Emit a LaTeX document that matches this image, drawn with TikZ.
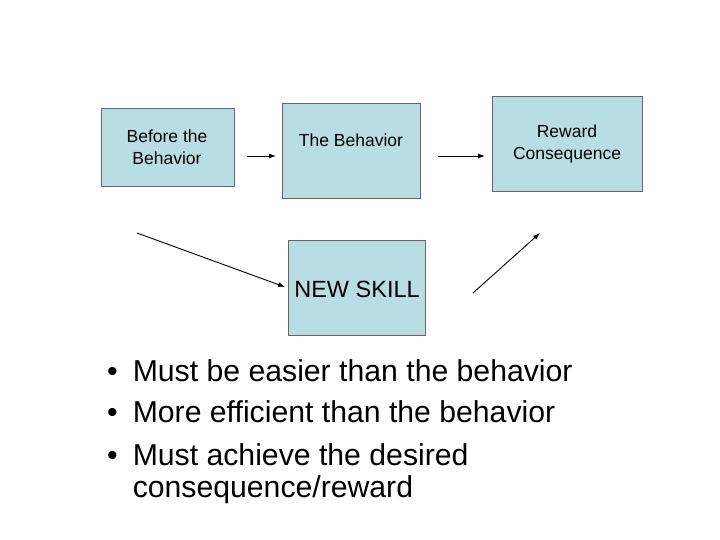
\documentclass[tikz,border=0pt]{standalone}
\usepackage{fontspec}
\setmainfont{Liberation Sans}
\usetikzlibrary{arrows.meta}
\begin{document}
\begin{tikzpicture}[x=1pt,y=-1pt,
  box/.style={draw=gray!80!black,fill=boxblue,line width=0.6pt},
  lbl/.style={align=center,font=\fontsize{17.5}{22}\selectfont},
  arr/.style={-{Latex[length=7pt,width=5pt]},line width=0.9pt},
  bul/.style={anchor=west,font=\fontsize{30.2}{34}\selectfont,inner sep=0pt}]
\definecolor{boxblue}{HTML}{B8DEE3}
\useasboundingbox (0,0) rectangle (720,540);
\fill[white] (0,0) rectangle (720,540);
\draw[box] (101,108) rectangle (234,186);
\draw[box] (282,103) rectangle (420,198);
\draw[box] (492,96) rectangle (642,191);
\draw[box] (288,240) rectangle (425,335);
\node[lbl] (b1) at (167,147) {Before the\\Behavior};
\node[lbl] (b2) at (351,140) {The Behavior};
\node[lbl] (b3) at (567,144) {Reward\\Consequence};
\node[font=\fontsize{23.5}{28}\selectfont] (b4) at (357,289) {NEW SKILL};
\coordinate (a1s) at (247,156); \coordinate (a1e) at (276,156);
\coordinate (a2s) at (438,156); \coordinate (a2e) at (485,156);
\coordinate (a3s) at (137,233); \coordinate (a3e) at (285,287);
\coordinate (a4s) at (473,293); \coordinate (a4e) at (540,233);
\draw[arr] (a1s) -- (a1e);
\draw[arr] (a2s) -- (a2e);
\draw[arr] (a3s) -- (a3e);
\draw[arr] (a4s) -- (a4e);
\node[bul] (l1) at (107,371) {\textbullet\hspace{15pt}Must be easier than the behavior};
\node[bul] (l2) at (107,412) {\textbullet\hspace{15pt}More efficient than the behavior};
\node[bul] (l3) at (107,455) {\textbullet\hspace{15pt}Must achieve the desired};
\node[bul] (l4) at (107,490) {\phantom{\textbullet}\hspace{15pt}consequence/reward};
\end{tikzpicture}
\end{document}
